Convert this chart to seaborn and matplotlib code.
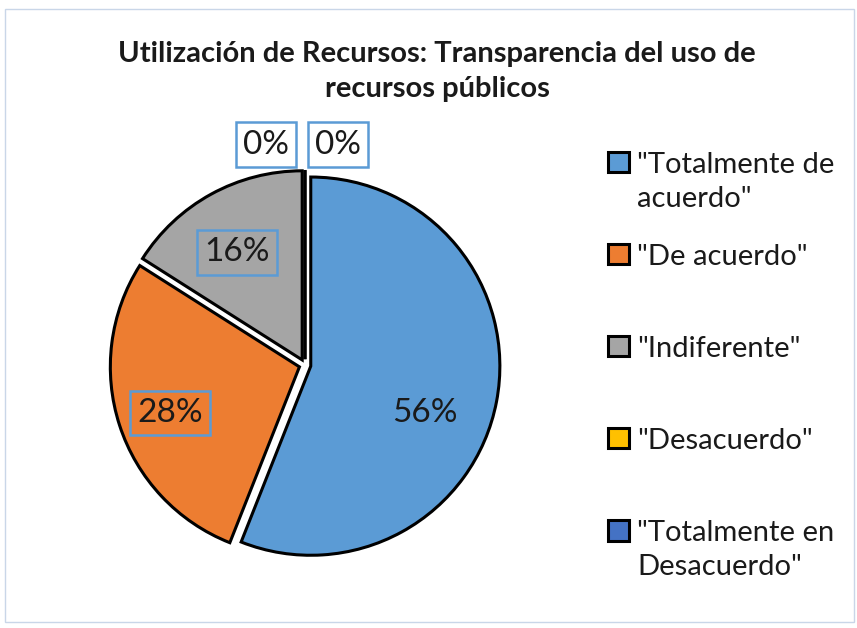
import numpy as np
import pandas as pd
import matplotlib
matplotlib.use("Agg")
import matplotlib.pyplot as plt
import seaborn as sns
from matplotlib.patches import Rectangle

# data
categories = ['"Totalmente de\nacuerdo"', '"De acuerdo"', '"Indiferente"',
              '"Desacuerdo"', '"Totalmente en\nDesacuerdo"']
values = [56, 28, 16, 0, 0]
colors = ["#5B9BD5", "#ED7D31", "#A5A5A5", "#FFC000", "#4472C4"]
title = "Utilización de Recursos: Transparencia del uso de\nrecursos públicos"

df = pd.DataFrame({"cat": categories, "val": values})

sns.set_theme(style="white")
plt.rcParams["font.family"] = ["Lato", "DejaVu Sans"]

fig = plt.figure(figsize=(8.57, 6.28), dpi=100)
ax = fig.add_axes([0.1056, 0.0772, 0.5006, 0.683])

wedges, texts, autotexts = ax.pie(
    df["val"], colors=colors, startangle=90, counterclock=False, radius=0.97,
    explode=[0.03] * len(df), autopct="%1.0f%%", pctdistance=0.72,
    wedgeprops=dict(edgecolor="black", linewidth=2.2),
    textprops=dict(fontsize=24, color="#1a1a1a"))
ax.set_xlim(-1.1, 1.1)
ax.set_ylim(-1.1, 1.1)
ax.set_aspect("equal")

box = dict(boxstyle="square,pad=0.22", facecolor="none", edgecolor="#5B9BD5", linewidth=1.8)
zero_x = [-0.2, 0.17]
k = 0
for t, v in zip(autotexts, df["val"]):
    x, y = t.get_position()
    if v == 0:
        t.set_position((zero_x[k], 1.13))
        t.set_bbox(dict(box, facecolor="white"))
        k += 1
    elif v > 50:
        t.set_position((x - 0.1, y - 0.11))
    else:
        t.set_position((x, y - 0.02 if x < -0.5 else y - 0.06))
        t.set_bbox(box)

fig.text(0.51, 0.886, title, ha="center", va="center", fontsize=21,
         fontweight="bold", linespacing=1.45, color="#1a1a1a")

# equal-height legend slots, like the original
leg_labels = [c if "\n" in c else c + "\n" for c in df["cat"]]
leg = fig.legend(wedges, leg_labels, loc="upper left", bbox_to_anchor=(0.679, 0.8),
                 frameon=False, fontsize=21, handlelength=0.7, handleheight=0.7,
                 handletextpad=0.3, labelspacing=1.1)
for t in leg.get_texts():
    t.set_linespacing(1.38)
    t.set_color("#1a1a1a")
for col in leg._legend_handle_box.get_children():
    for item in col.get_children():
        item.align = "top"

# thin chart border
fig.add_artist(Rectangle((0.006, 0.01), 0.99, 0.975, transform=fig.transFigure,
                         fill=False, edgecolor="#C9D6E8", linewidth=1))

fig.savefig("out.png", dpi=100)
